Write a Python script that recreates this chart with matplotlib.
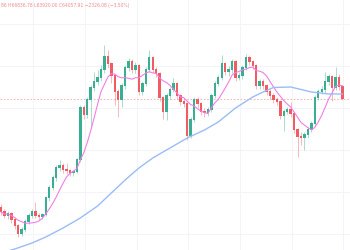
import numpy as np
import pandas as pd
import matplotlib
matplotlib.use("Agg")
import matplotlib.pyplot as plt

# prices in thousands
first_open = 42.3
close = [41.5, 40.7, 41.1, 39.9, 38.7, 37.1, 37.9, 39.5, 40.7, 41.5,
         40.7, 40.5, 40.9, 44.3, 46.3, 48.3, 50.3, 50.7, 49.9, 49.7,
         49.3, 49.5, 51.9, 62.3, 60.9, 63.9, 66.3, 67.5, 68.3, 69.9,
         72.5, 71.1, 68.7, 65.5, 63.9, 66.7, 70.3, 71.5, 69.9, 70.7,
         65.5, 67.1, 69.9, 72.3, 69.9, 69.1, 64.3, 61.5, 64.7, 65.9,
         67.1, 64.7, 63.5, 63.1, 56.7, 59.9, 63.9, 63.1, 61.5, 61.3,
         61.9, 64.7, 67.1, 68.3, 71.1, 69.5, 69.9, 71.5, 68.3, 68.7,
         70.3, 72.3, 71.5, 70.7, 66.7, 67.5, 66.7, 65.5, 64.7, 63.9,
         63.5, 60.7, 61.5, 61.9, 61.1, 57.9, 56.5, 56.3, 56.9, 57.9,
         59.1, 64.3, 65.5, 65.9, 67.5, 68.5, 66.3, 68.3, 66.5, 64.1]
high = [43.1, 42.0, 41.6, 41.5, 40.3, 39.0, 38.5, 40.0, 41.3, 42.0,
        43.5, 41.3, 41.4, 44.8, 46.9, 48.9, 51.0, 51.9, 51.4, 51.3,
        50.1, 50.0, 52.3, 62.9, 63.0, 64.5, 66.9, 69.5, 69.9, 70.9,
        74.9, 73.9, 71.6, 69.1, 66.1, 67.3, 70.9, 72.3, 72.1, 71.5,
        71.1, 67.7, 70.5, 73.9, 72.7, 70.5, 69.5, 64.7, 65.3, 66.5,
        68.3, 67.5, 65.1, 64.1, 63.5, 60.5, 64.5, 64.5, 63.5, 62.3,
        62.5, 65.3, 67.7, 68.9, 72.9, 71.5, 70.7, 72.1, 71.9, 69.5,
        70.9, 73.1, 72.9, 71.9, 71.1, 68.1, 68.1, 67.1, 66.1, 65.3,
        64.5, 63.9, 62.1, 62.5, 63.5, 61.5, 58.3, 57.5, 57.5, 58.5,
        59.7, 64.9, 66.1, 66.7, 69.5, 69.1, 68.9, 70.5, 69.1, 66.8]
low = [40.9, 40.2, 40.1, 39.3, 38.0, 36.5, 36.6, 37.5, 39.1, 40.2,
       40.2, 39.9, 40.0, 40.6, 43.8, 45.9, 47.8, 49.8, 49.3, 49.1,
       48.7, 48.8, 49.2, 51.5, 60.2, 60.4, 58.5, 65.8, 66.9, 67.7,
       69.4, 70.4, 67.3, 62.9, 60.5, 62.5, 66.1, 69.7, 69.3, 69.3,
       64.9, 64.9, 66.7, 69.5, 69.3, 68.5, 63.7, 60.1, 59.9, 64.1,
       65.5, 64.1, 62.9, 62.5, 55.9, 56.3, 59.5, 62.3, 60.9, 60.5,
       60.7, 61.5, 64.3, 66.7, 67.9, 68.9, 68.7, 69.3, 67.7, 67.9,
       68.1, 69.9, 70.9, 70.1, 66.1, 66.1, 66.1, 64.9, 64.1, 63.3,
       62.9, 60.1, 57.7, 61.1, 60.5, 57.3, 52.5, 54.9, 53.9, 56.3,
       57.5, 58.7, 63.9, 65.1, 65.3, 66.9, 63.7, 65.9, 65.9, 63.9]

# slow moving average, read at a few bars
slow_ma_bar = [0, 4, 9, 13, 18, 23, 28, 32, 36, 40, 44, 49, 54, 59, 63,
               68, 73, 76, 79, 84, 90, 95, 99]
slow_ma = [33.3, 34.1, 35.3, 36.5, 38.3, 40.3, 42.7, 45.3, 47.9, 50.3,
           52.3, 54.3, 56.3, 57.9, 59.5, 62.3, 64.5, 65.5, 66.4, 66.5,
           65.5, 65.1, 65.1]

legend_text = "86 H66836.78 L63920.00 C64057.91 \u22122326.08 (\u22123.50%)"

green = "#3aae92"
red = "#f05c62"

close = np.array(close)
opens = np.concatenate([[first_open], close[:-1]])
high = np.array(high)
low = np.array(low)
bars = np.arange(len(close))
fast_ma = pd.Series(close).rolling(7, min_periods=1).mean()

fig = plt.figure(figsize=(3.5, 2.5), dpi=100)
ax = fig.add_axes([0, 0, 1, 1])

for x in np.arange(9.3, 101, 15):
    ax.axvline(x, color="#f1f3f8", lw=0.6, zorder=0)
for y in np.arange(79.1, 30, -8.4):
    ax.axhline(y, color="#f1f3f8", lw=0.6, zorder=0)

up = close >= opens
cols = np.where(up, green, red)
ax.vlines(bars, low, high, colors=cols, lw=0.6, alpha=0.5, zorder=2)
ax.bar(bars, np.abs(close - opens) + 0.15, bottom=np.minimum(close, opens),
       width=0.7, color=cols, edgecolor="none", zorder=3)

ax.plot(bars, fast_ma, color="#f07fe6", lw=0.8, zorder=4)
ax.plot(slow_ma_bar, slow_ma, color="#9bbcf5", lw=1.0, zorder=4)
ax.axhline(close[-1], color="#f8a8ac", lw=0.6, ls=(0, (2, 2)), zorder=1)

ax.set_xlim(-0.29, 101.2)
ax.set_ylim(33.9, 83.9)
ax.axis("off")

fig.text(1 / 350, 1 - 6 / 250, legend_text, ha="left", va="center",
         fontsize=3.25, color="#f08a8f")

fig.savefig("out.png", dpi=100)
